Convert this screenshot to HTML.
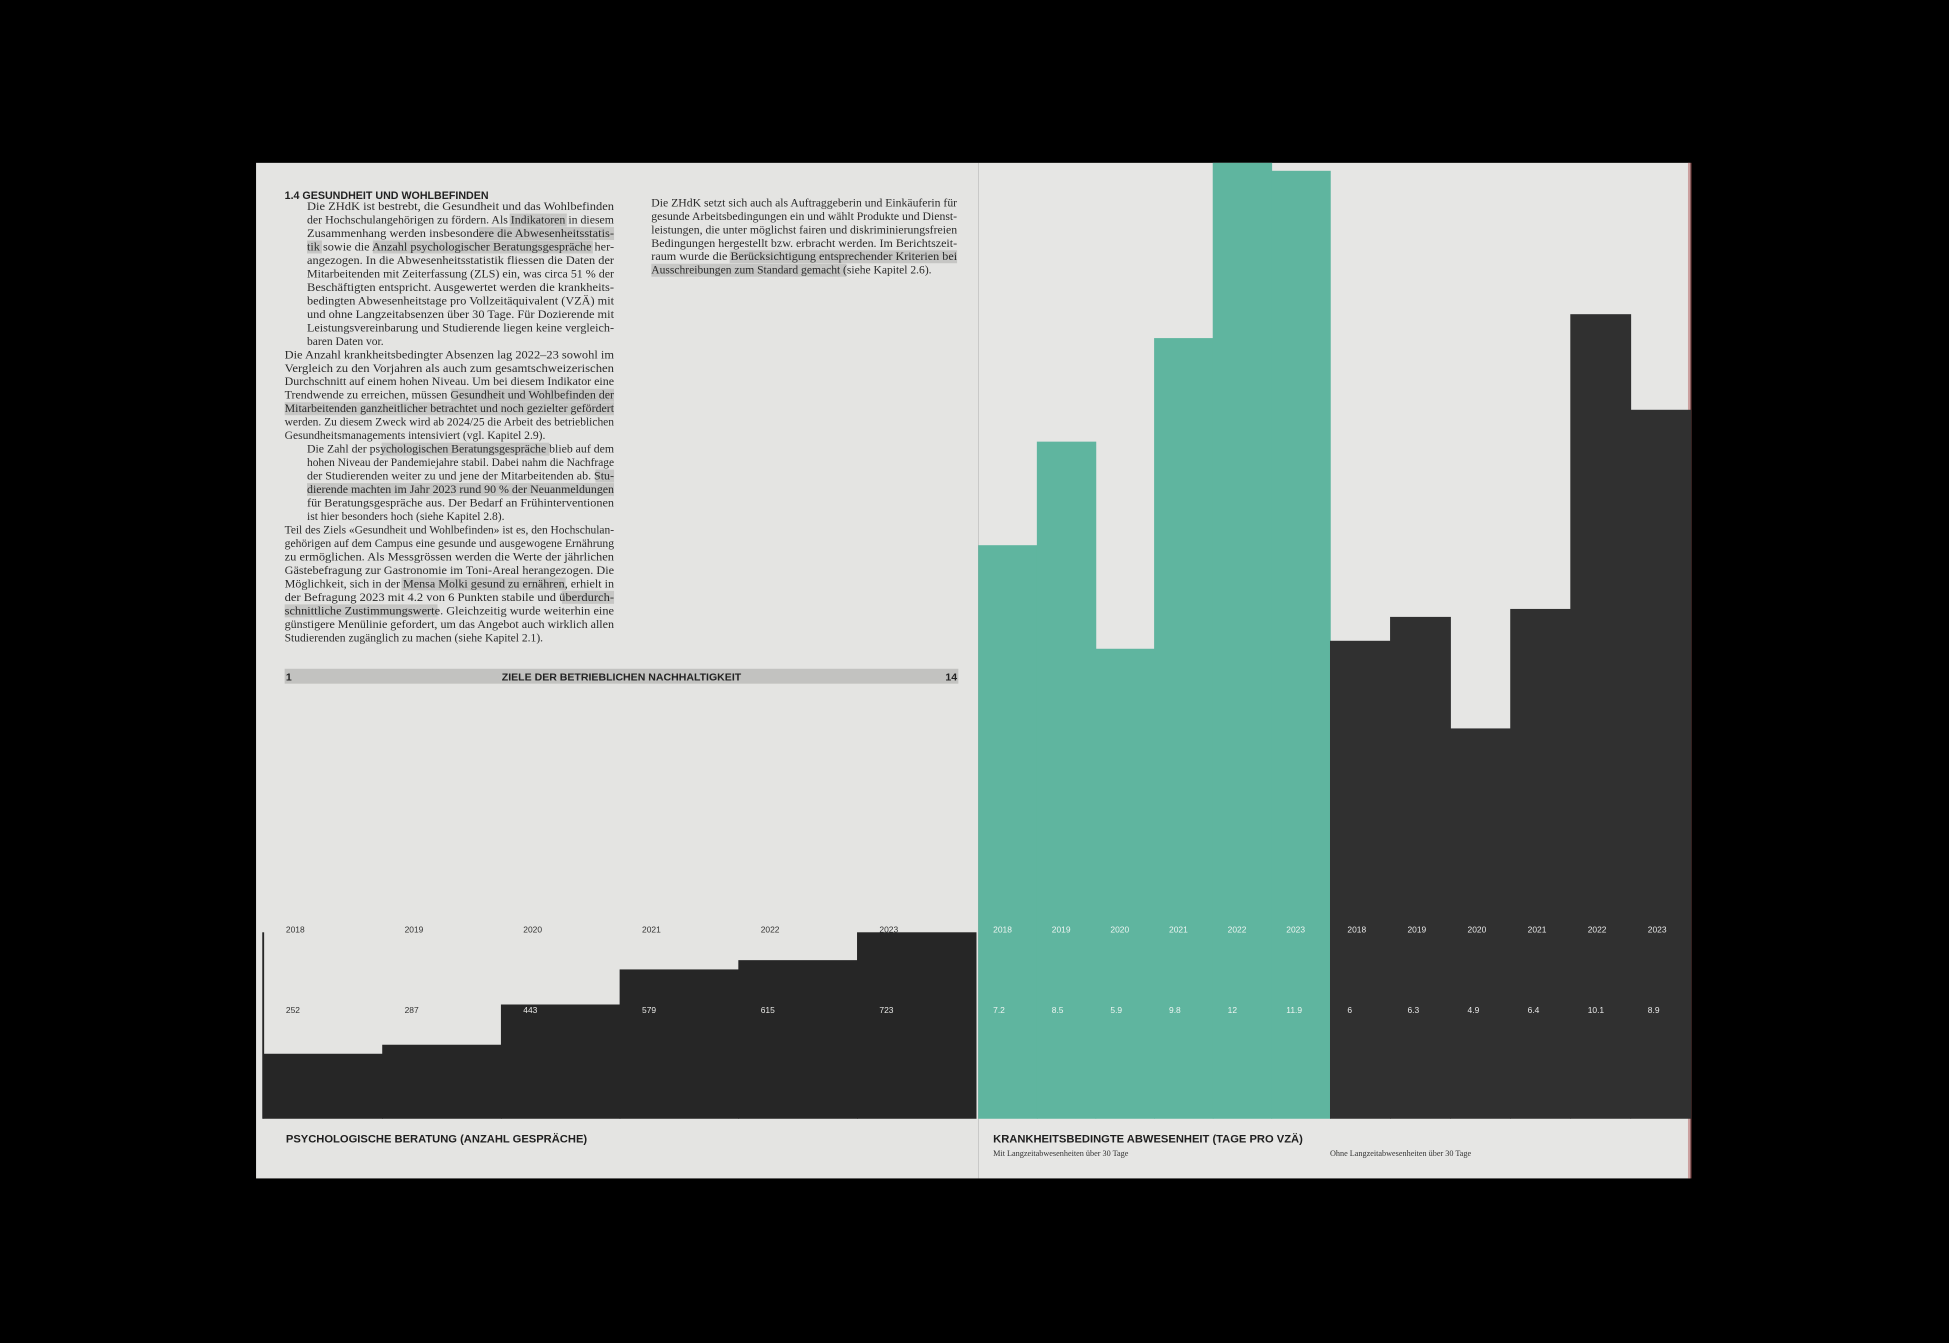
<!DOCTYPE html>
<html><head><meta charset="utf-8"><style>
html,body{margin:0;padding:0;background:#000;}
svg{display:block;}
.body{font-family:"Liberation Serif",serif;font-size:9.3px;fill:#2a2a2a;}
.sans{font-family:"Liberation Sans",sans-serif;}
</style></head><body>
<svg id="spread" width="1949" height="1343" viewBox="0 0 1568 1080.4" preserveAspectRatio="none" xmlns="http://www.w3.org/2000/svg">
<rect x="0" y="0" width="1568" height="1080.4" fill="#000"/>
<rect x="206" y="131" width="581" height="817" fill="#e4e4e2"/>
<rect x="787" y="131" width="573" height="817" fill="#e6e6e4"/>
<rect x="1358" y="131" width="3" height="817" fill="#b05a5a" opacity="0.5"/>
<g id="highlights" fill="#c6c6c4"></g>
<g id="textcol">
<text x="229" y="160" class="sans" font-size="8.6" font-weight="bold" fill="#222">1.4 GESUNDHEIT UND WOHLBEFINDEN</text>
</g>
<rect x="229" y="538" width="542" height="12" fill="#c2c2c0"/>
<text x="230" y="547.5" class="sans" font-size="8.5" font-weight="bold" fill="#222">1</text>
<text x="500" y="547.5" class="sans" font-size="8.5" font-weight="bold" fill="#222" text-anchor="middle">ZIELE DER BETRIEBLICHEN NACHHALTIGKEIT</text>
<text x="770" y="547.5" class="sans" font-size="8.5" font-weight="bold" fill="#222" text-anchor="end">14</text>
<g id="chart1"></g>
<g id="chart2"></g>
<g id="chart3"></g>
<text x="230" y="919" class="sans" font-size="9" font-weight="bold" fill="#1e1e1e">PSYCHOLOGISCHE BERATUNG (ANZAHL GESPRÄCHE)</text>
<text x="799" y="919" class="sans" font-size="9" font-weight="bold" fill="#1e1e1e">KRANKHEITSBEDINGTE ABWESENHEIT (TAGE PRO VZÄ)</text>
<text x="799" y="930" font-family="Liberation Serif, serif" font-size="6.6" fill="#333">Mit Langzeitabwesenheiten über 30 Tage</text>
<text x="1070" y="930" font-family="Liberation Serif, serif" font-size="6.6" fill="#333">Ohne Langzeitabwesenheiten über 30 Tage</text>
</svg>
<script>
const NS="http://www.w3.org/2000/svg";
const years=["2018","2019","2020","2021","2022","2023"];
const counseling=[252,287,443,579,615,723];
const absenceWith=[7.2,8.5,5.9,9.8,12,11.9];
const absenceWithout=[6,6.3,4.9,6.4,10.1,8.9];
const counselingLabels=["252","287","443","579","615","723"];
const withLabels=["7.2","8.5","5.9","9.8","12","11.9"];
const withoutLabels=["6","6.3","4.9","6.4","10.1","8.9"];

function mk(tag,attrs,parent){const e=document.createElementNS(NS,tag);for(const k in attrs)e.setAttribute(k,attrs[k]);parent.appendChild(e);return e;}

function drawChart(gid,vals,labels,x0,x1,yScale,fill,txtFill,yearDx,name){
  const g=document.getElementById(gid);
  const w=(x1-x0)/vals.length;
  vals.forEach((v,i)=>{
    const top=yScale(v);
    const r=mk('rect',{x:x0+i*w,y:top,width:w+0.6,height:900-top,fill:fill},g);
    
    
  });
  vals.forEach((v,i)=>{
    const t=mk('text',{x:x0+i*w+yearDx,y:750,'font-family':'Liberation Sans, sans-serif','font-size':'6.8',fill:(typeof txtFill==='function'?txtFill(i,747):txtFill)},g);
    t.textContent=years[i];
    
    
    const t2=mk('text',{x:x0+i*w+yearDx,y:815,'font-family':'Liberation Sans, sans-serif','font-size':'6.8',fill:(typeof txtFill==='function'?txtFill(i,812):txtFill)},g);
    t2.textContent=labels[i];
    
    
  });
}
// left chart
const c1Scale=v=>900-v*(150/723);
drawChart('chart1',counseling,counselingLabels,212,785,c1Scale,'#262626',(i,y)=>(c1Scale(counseling[i])<y?'#e8e8e6':'#333'),18,'counseling');
const ax=mk('rect',{x:211,y:750,width:1.5,height:150,fill:'#262626'},document.getElementById('chart1'));


const rScale=v=>900-v*((900-131)/12);
drawChart('chart2',absenceWith,withLabels,787,1070,rScale,'#5fb59f','#eef5f2',12,'with-long');
drawChart('chart3',absenceWithout,withoutLabels,1070,1360,rScale,'#303030','#e8e8e8',14,'without-long');

// body text
const leftLines=[
["Die ZHdK ist bestrebt, die Gesundheit und das Wohlbefinden",1,1],
["der Hochschulangehörigen zu fördern. Als Indikatoren in diesem",1,1],
["Zusammenhang werden insbesondere die Abwesenheitsstatis-",1,1],
["tik sowie die Anzahl psychologischer Beratungsgespräche her-",1,1],
["angezogen. In die Abwesenheitsstatistik fliessen die Daten der",1,1],
["Mitarbeitenden mit Zeiterfassung (ZLS) ein, was circa 51 % der",1,1],
["Beschäftigten entspricht. Ausgewertet werden die krankheits-",1,1],
["bedingten Abwesenheitstage pro Vollzeitäquivalent (VZÄ) mit",1,1],
["und ohne Langzeitabsenzen über 30 Tage. Für Dozierende mit",1,1],
["Leistungsvereinbarung und Studierende liegen keine vergleich-",1,1],
["baren Daten vor.",1,0],
["Die Anzahl krankheitsbedingter Absenzen lag 2022–23 sowohl im",0,1],
["Vergleich zu den Vorjahren als auch zum gesamtschweizerischen",0,1],
["Durchschnitt auf einem hohen Niveau. Um bei diesem Indikator eine",0,1],
["Trendwende zu erreichen, müssen Gesundheit und Wohlbefinden der",0,1],
["Mitarbeitenden ganzheitlicher betrachtet und noch gezielter gefördert",0,1],
["werden. Zu diesem Zweck wird ab 2024/25 die Arbeit des betrieblichen",0,1],
["Gesundheitsmanagements intensiviert (vgl. Kapitel 2.9).",0,0],
["Die Zahl der psychologischen Beratungsgespräche blieb auf dem",1,1],
["hohen Niveau der Pandemiejahre stabil. Dabei nahm die Nachfrage",1,1],
["der Studierenden weiter zu und jene der Mitarbeitenden ab. Stu-",1,1],
["dierende machten im Jahr 2023 rund 90 % der Neuanmeldungen",1,1],
["für Beratungsgespräche aus. Der Bedarf an Frühinterventionen",1,1],
["ist hier besonders hoch (siehe Kapitel 2.8).",1,0],
["Teil des Ziels «Gesundheit und Wohlbefinden» ist es, den Hochschulan-",0,1],
["gehörigen auf dem Campus eine gesunde und ausgewogene Ernährung",0,1],
["zu ermöglichen. Als Messgrössen werden die Werte der jährlichen",0,1],
["Gästebefragung zur Gastronomie im Toni-Areal herangezogen. Die",0,1],
["Möglichkeit, sich in der Mensa Molki gesund zu ernähren, erhielt in",0,1],
["der Befragung 2023 mit 4.2 von 6 Punkten stabile und überdurch-",0,1],
["schnittliche Zustimmungswerte. Gleichzeitig wurde weiterhin eine",0,1],
["günstigere Menülinie gefordert, um das Angebot auch wirklich allen",0,1],
["Studierenden zugänglich zu machen (siehe Kapitel 2.1).",0,0]
];
const rightLines=[
["Die ZHdK setzt sich auch als Auftraggeberin und Einkäuferin für",1],
["gesunde Arbeitsbedingungen ein und wählt Produkte und Dienst-",1],
["leistungen, die unter möglichst fairen und diskriminierungsfreien",1],
["Bedingungen hergestellt bzw. erbracht werden. Im Berichtszeit-",1],
["raum wurde die Berücksichtigung entsprechender Kriterien bei",1],
["Ausschreibungen zum Standard gemacht (siehe Kapitel 2.6).",0]
];
const hl=[[1,410,456],[2,385,494],[3,247,259],[3,300,477],[14,363,494],[15,229,494],[18,307,442],[20,479,494],[21,247,494],[28,323,455],[29,452,494],[30,229,352]];
const hlR=[[4,587,770],[5,524,681]];
const tc=document.getElementById('textcol');
const hg=document.getElementById('highlights');
const lh=10.84, y0=169;
hl.forEach(h=>{const r=mk('rect',{x:h[1],y:y0+h[0]*lh-8,width:h[2]-h[1],height:10.4},hg);

});
hlR.forEach(h=>{const r=mk('rect',{x:h[1],y:166+h[0]*lh-8,width:h[2]-h[1],height:10.4},hg);

});
leftLines.forEach((l,i)=>{
  const x=l[1]?247:229;
  const a={x:x,y:y0+i*lh,class:'body'};
  if(l[2]){a.textLength=494-x;a.lengthAdjust='spacingAndGlyphs';}
  const t=mk('text',a,tc);t.textContent=l[0];
  
  
});
rightLines.forEach((l,i)=>{
  const a={x:524,y:166+i*lh,class:'body'};
  if(l[1]){a.textLength=246;a.lengthAdjust='spacingAndGlyphs';}
  const t=mk('text',a,tc);t.textContent=l[0];
  
  
});
</script>
</body></html>
